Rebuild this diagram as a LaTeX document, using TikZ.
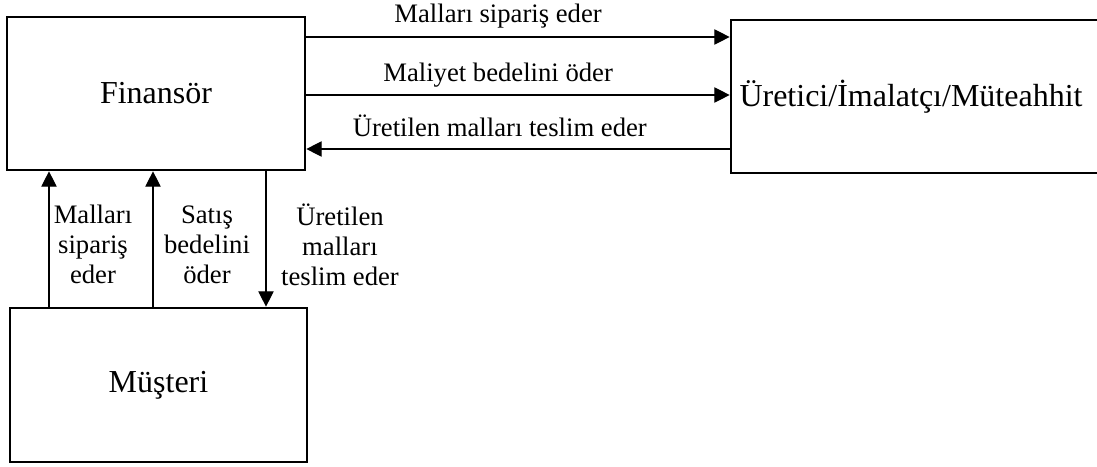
\documentclass[tikz,border=0pt]{standalone}
\usepackage{fontspec}
\setmainfont{Liberation Serif}
\usetikzlibrary{arrows.meta}
\begin{document}
\begin{tikzpicture}[x=0.75pt,y=-0.75pt,
  box/.style={draw, line width=2pt, rectangle, inner sep=0pt,
    font=\fontsize{24}{28}\selectfont},
  flow/.style={-{Triangle[length=11.5pt,width=11.5pt]}, line width=0.8pt},
  lbl/.style={font=\fontsize{20}{22.5}\selectfont, inner sep=0pt},
  stack/.style={lbl, align=center}]
\useasboundingbox (0,0) rectangle (1097,467);

% parties
\node[box, minimum width=223.5pt, minimum height=114.75pt] (fin) at (156,93.5) {Finansör};
\node[box, minimum width=277.5pt, minimum height=114.75pt] (ure) at (916,96.5) {Üretici/İmalatçı/Müteahhit\hspace*{7.5pt}};
\node[box, minimum width=222.75pt, minimum height=115.5pt] (mus) at (158.5,385) {Müşteri};

% flows between financier and producer
\draw[flow] (fin.east |- 0,37) -- node[lbl, pos=0.453, anchor=base, yshift=11pt] {Malları sipariş eder} (ure.west |- 0,37);
\draw[flow] (fin.east |- 0,95) -- node[lbl, pos=0.453, anchor=base, yshift=10pt] {Maliyet bedelini öder} (ure.west |- 0,95);
\draw[flow] (ure.west |- 0,149) -- node[lbl, pos=0.543, anchor=base, yshift=9pt] {Üretilen malları teslim eder} (fin.east |- 0,149);

% flows between customer and financier
\draw[flow] (mus.north -| 49,0) -- node[stack, pos=0.457, xshift=33pt] {Malları\\sipariş\\eder} (fin.south -| 49,0);
\draw[flow] (mus.north -| 153,0) -- node[stack, pos=0.457, xshift=40.5pt] {Satış\\bedelini\\öder} (fin.south -| 153,0);
\draw[flow] (fin.south -| 266,0) -- node[stack, pos=0.543, xshift=55.5pt] {Üretilen\\malları\\teslim eder} (mus.north -| 266,0);
\end{tikzpicture}
\end{document}
